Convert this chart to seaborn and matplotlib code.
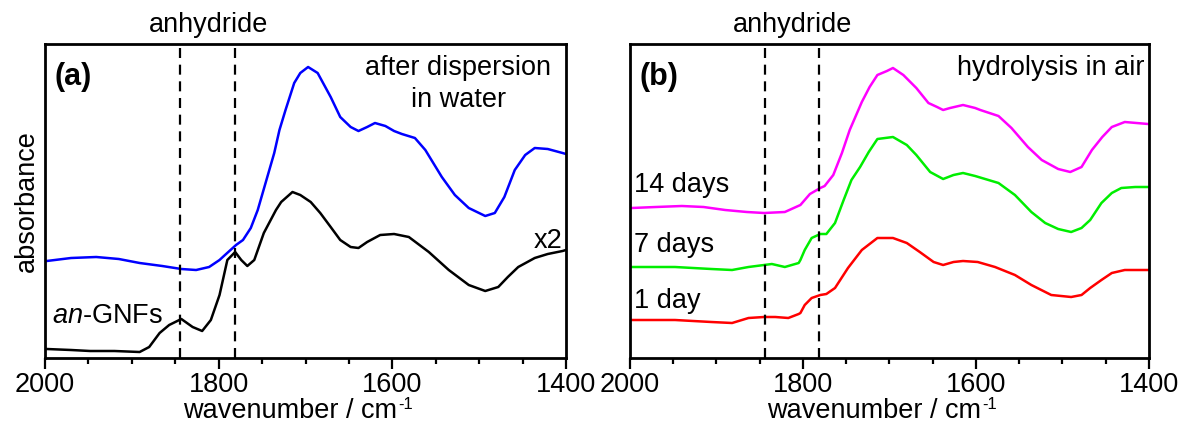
import pandas as pd
import matplotlib.pyplot as plt
import seaborn as sns

# wavenumbers (cm-1) and absorbance (arb. units)
wn_gnf = [2000, 1998, 1970, 1948, 1920, 1891, 1880, 1868, 1857, 1843, 1830, 1819, 1809, 1799, 1790,
          1781, 1774, 1767, 1759, 1748, 1734, 1728, 1715, 1706, 1694, 1683, 1671, 1660, 1648, 1639,
          1629, 1614, 1598, 1581, 1558, 1535, 1512, 1493, 1478, 1467, 1455, 1436, 1421, 1404, 1400]
ab_gnf = [0.09, 0.09, 0.08, 0.07, 0.07, 0.06, 0.11, 0.25, 0.33, 0.39, 0.31, 0.27, 0.38, 0.63, 0.98,
          1.06, 0.98, 0.92, 0.98, 1.25, 1.48, 1.56, 1.66, 1.63, 1.56, 1.45, 1.31, 1.18, 1.11, 1.10,
          1.16, 1.23, 1.24, 1.21, 1.06, 0.88, 0.73, 0.67, 0.71, 0.81, 0.91, 1.00, 1.04, 1.07, 1.08]

wn_water = [2000, 1998, 1970, 1941, 1915, 1891, 1865, 1843, 1826, 1811, 1799, 1794, 1780, 1772,
            1763, 1755, 1746, 1736, 1730, 1723, 1713, 1706, 1697, 1686, 1671, 1660, 1648, 1639,
            1629, 1620, 1608, 1598, 1589, 1574, 1562, 1543, 1528, 1512, 1493, 1482, 1471, 1459,
            1447, 1436, 1421, 1404, 1400]
ab_water = [0.97, 0.97, 1.00, 1.01, 0.99, 0.95, 0.92, 0.89, 0.88, 0.91, 0.98, 1.02, 1.13, 1.18,
            1.30, 1.48, 1.75, 2.05, 2.28, 2.48, 2.75, 2.85, 2.91, 2.85, 2.61, 2.41, 2.31, 2.27,
            2.31, 2.35, 2.32, 2.27, 2.24, 2.20, 2.08, 1.81, 1.63, 1.50, 1.42, 1.45, 1.61, 1.88,
            2.03, 2.10, 2.09, 2.05, 2.04]

wn_14d = [2000, 1998, 1970, 1940, 1915, 1890, 1865, 1845, 1821, 1803, 1798, 1792, 1780, 1775,
          1765, 1755, 1746, 1732, 1723, 1714, 1703, 1696, 1684, 1669, 1655, 1645, 1638, 1630,
          1615, 1601, 1595, 1574, 1559, 1540, 1524, 1505, 1491, 1478, 1466, 1454, 1443, 1428,
          1401, 1400]
ab_14d = [1.50, 1.50, 1.51, 1.52, 1.51, 1.48, 1.46, 1.45, 1.46, 1.53, 1.58, 1.64, 1.70, 1.72,
          1.83, 2.05, 2.28, 2.56, 2.71, 2.83, 2.87, 2.90, 2.83, 2.70, 2.55, 2.51, 2.48, 2.50,
          2.53, 2.50, 2.48, 2.42, 2.30, 2.11, 1.98, 1.89, 1.86, 1.91, 2.08, 2.21, 2.31, 2.36,
          2.34, 2.34]

wn_7d = [2000, 1998, 1948, 1906, 1882, 1863, 1845, 1836, 1821, 1805, 1803, 1798, 1790, 1780,
         1773, 1763, 1753, 1744, 1734, 1724, 1714, 1696, 1680, 1669, 1653, 1638, 1626, 1615,
         1601, 1574, 1555, 1536, 1520, 1505, 1490, 1478, 1468, 1455, 1443, 1432, 1416, 1401, 1400]
ab_7d = [0.91, 0.91, 0.91, 0.89, 0.88, 0.91, 0.93, 0.94, 0.91, 0.95, 0.98, 1.08, 1.20, 1.24,
         1.24, 1.35, 1.58, 1.78, 1.91, 2.06, 2.19, 2.21, 2.13, 2.03, 1.86, 1.79, 1.83, 1.85,
         1.82, 1.75, 1.63, 1.46, 1.35, 1.29, 1.26, 1.30, 1.38, 1.55, 1.65, 1.70, 1.71, 1.71, 1.71]

wn_1d = [2000, 1998, 1948, 1906, 1882, 1863, 1845, 1832, 1817, 1805, 1803, 1798, 1790, 1780,
         1773, 1763, 1748, 1732, 1714, 1696, 1680, 1665, 1649, 1638, 1626, 1615, 1598, 1578,
         1555, 1536, 1513, 1490, 1478, 1468, 1455, 1443, 1428, 1401, 1400]
ab_1d = [0.38, 0.38, 0.38, 0.36, 0.35, 0.40, 0.41, 0.41, 0.40, 0.44, 0.45, 0.53, 0.60, 0.63,
         0.64, 0.70, 0.90, 1.08, 1.20, 1.20, 1.15, 1.06, 0.96, 0.93, 0.96, 0.97, 0.96, 0.91,
         0.83, 0.73, 0.63, 0.61, 0.63, 0.70, 0.78, 0.85, 0.88, 0.88, 0.88]

anhydride_lines = [1844, 1781]
xticks_major = [2000, 1800, 1600, 1400]
xticks_minor = [1950, 1900, 1850, 1750, 1700, 1650, 1550, 1500, 1450]

FS = 19.5

sns.set_theme(style="ticks")
plt.rcParams['font.family'] = ['Liberation Sans', 'DejaVu Sans']
plt.rcParams['mathtext.fontset'] = 'custom'
plt.rcParams['mathtext.rm'] = 'Liberation Sans'
plt.rcParams['mathtext.it'] = 'Liberation Sans:italic'
for k in ('text.color', 'axes.labelcolor', 'xtick.color', 'ytick.color', 'axes.edgecolor'):
    plt.rcParams[k] = 'black'

fig = plt.figure(figsize=(11.84, 4.29), dpi=100)
ax1 = fig.add_axes([45 / 1184, 71 / 429, 521 / 1184, 314 / 429])
ax2 = fig.add_axes([630 / 1184, 71 / 429, 519 / 1184, 314 / 429])

# panel (a)
sns.lineplot(x=wn_gnf, y=ab_gnf, ax=ax1, color='black', lw=1.8)
sns.lineplot(x=wn_water, y=ab_water, ax=ax1, color='#0000ff', lw=1.8)

# panel (b)
sns.lineplot(x=wn_1d, y=ab_1d, ax=ax2, color='#ff0000', lw=1.8)
sns.lineplot(x=wn_7d, y=ab_7d, ax=ax2, color='#00ee00', lw=1.8)
sns.lineplot(x=wn_14d, y=ab_14d, ax=ax2, color='#ff00ff', lw=1.8)

for ax in (ax1, ax2):
    ax.set_xlim(2000, 1400)
    ax.set_ylim(0, 3.14)
    for w in anhydride_lines:
        ax.axvline(w, color='black', ls=(0, (4.5, 3)), lw=1.6)
    ax.set_xticks(xticks_major)
    ax.set_xticks(xticks_minor, minor=True)
    ax.set_yticks([])
    ax.tick_params(axis='x', which='major', direction='out', length=8, width=1.6,
                   labelsize=FS, pad=2)
    ax.tick_params(axis='x', which='minor', direction='out', length=4.5, width=1.6)
    for s in ax.spines.values():
        s.set_linewidth(2)
    # x label: main text plus a small superscript
    lab = ax.text(0.47, -0.191, 'wavenumber / cm', transform=ax.transAxes,
                  ha='center', va='baseline', fontsize=FS)
    ax.annotate('-1', xy=(1.0, 1.0), xycoords=lab, xytext=(1, 1), textcoords='offset points',
                ha='left', va='top', fontsize=12)
    ax.text(1812, 1.038, 'anhydride', transform=ax.get_xaxis_transform(),
            ha='center', va='baseline', fontsize=FS)

ax1.set_ylabel('absorbance', fontsize=FS, labelpad=4)
ax1.text(0.019, 0.87, '(a)', transform=ax1.transAxes, fontsize=22, fontweight='bold',
         va='baseline')
ax1.text(0.793, 0.901, 'after dispersion', transform=ax1.transAxes, fontsize=FS,
         ha='center', va='baseline')
ax1.text(0.793, 0.80, 'in water', transform=ax1.transAxes, fontsize=FS,
         ha='center', va='baseline')
ax1.text(0.993, 0.35, 'x2', transform=ax1.transAxes, fontsize=FS, ha='right', va='baseline')
ax1.text(0.013, 0.11, '$\\mathit{an}$-GNFs', transform=ax1.transAxes, fontsize=FS,
         ha='left', va='baseline')

ax2.text(0.019, 0.87, '(b)', transform=ax2.transAxes, fontsize=22, fontweight='bold',
         va='baseline')
ax2.text(0.992, 0.90, 'hydrolysis in air', transform=ax2.transAxes, fontsize=FS,
         ha='right', va='baseline')
ax2.text(0.008, 0.529, '14 days', transform=ax2.transAxes, fontsize=FS, ha='left', va='baseline')
ax2.text(0.008, 0.338, '7 days', transform=ax2.transAxes, fontsize=FS, ha='left', va='baseline')
ax2.text(0.008, 0.16, '1 day', transform=ax2.transAxes, fontsize=FS, ha='left', va='baseline')

fig.savefig('out.png', dpi=100)
